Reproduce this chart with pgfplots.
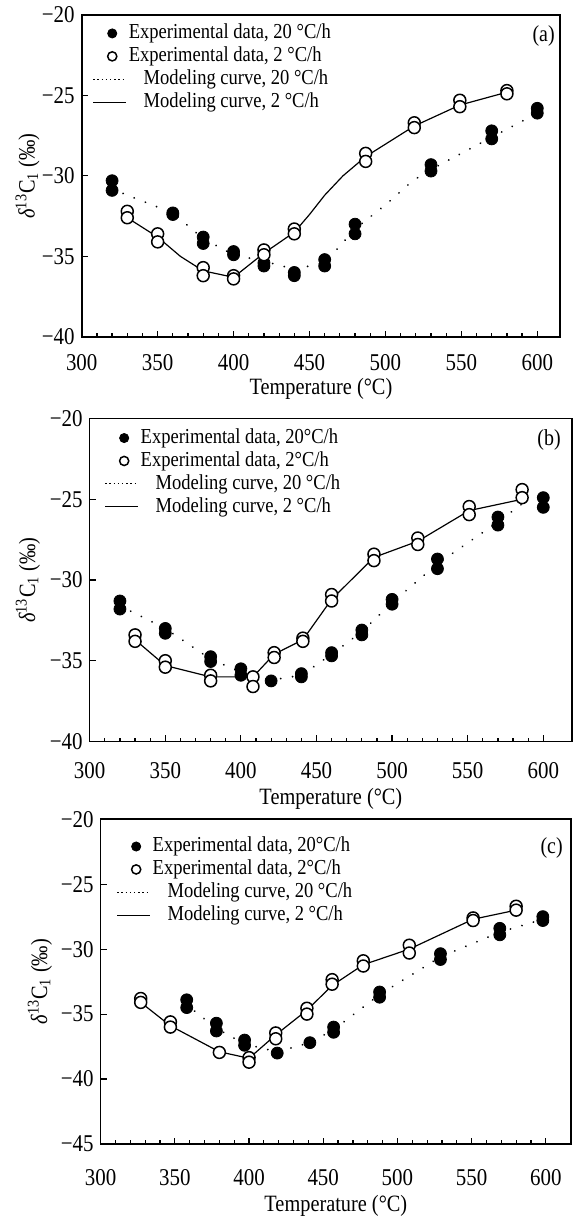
\documentclass[border=0pt]{standalone}
\usepackage{pgfplots}
\pgfplotsset{compat=1.18}
\usepackage{fontspec}
\setmainfont{Liberation Serif}
\newcommand{\st}[1]{\scalebox{1}[1.15]{#1}}
\begin{document}
\begin{tikzpicture}
\pgfplotsset{
 panel/.style={
  scale only axis, xmin=300, ymax=-20,
  axis line style={line width=0.8pt},
  tick align=inside, tick pos=left,
  xtick={300,350,...,600}, minor x tick num=4,
  major tick length=3pt, minor tick length=1.8pt,
  every tick/.append style={line width=0.6pt, black},
  /pgf/number format/assume math mode=true,
  xticklabel={\st{\pgfmathprintnumber{\tick}}},
  xticklabel style={font=\fontsize{10.5}{12}\selectfont},
  yticklabel style={font=\fontsize{10.5}{12}\selectfont},
  xlabel={\st{Temperature (°C)}},
  ylabel={\st{{\itshape δ}\textsuperscript{13}C\textsubscript{1} (‰)}},
  label style={font=\fontsize{10.2}{12}\selectfont},
  legend style={draw=none, fill=none, inner sep=0pt, outer sep=0pt, anchor=north west,
    font=\fontsize{9.3}{11}\selectfont, row sep=2pt, column sep=1pt,
    nodes={inner sep=0pt, text height=7.5pt, text depth=2pt}},
  legend cell align=left,
 },
 expimg/.style={legend image code/.code={\draw[##1, mark size=2.3pt] plot coordinates {(9.5pt,0pt)}; \path (0pt,0pt) (16.5pt,0pt);}},
 lineimg/.style={legend image code/.code={\draw[##1] (0pt,0pt) -- (16.5pt,0pt);}},
 filledpts/.style={only marks, mark=*, mark size=3pt, mark options={fill=black, draw=black}, expimg},
 openpts/.style={only marks, mark=*, mark size=3pt, mark options={fill=white, draw=black, line width=0.75pt}, expimg},
 dotcurve/.style={black, line width=1pt, dash pattern=on 0.01pt off 6pt, line cap=round},
 solidcurve/.style={black, line width=0.6pt},
 dotleg/.style={black, line width=0.6pt, dash pattern=on 0.7pt off 1.4pt, lineimg},
 solleg/.style={black, line width=0.6pt, lineimg},
}
\path (0pt,0pt) rectangle (287.5pt,-611.5pt);

% ---------------- (a)
\begin{axis}[panel, at={(41pt,-7.5pt)}, anchor=north west, width=240pt, height=161.5pt,
  xmax=615, ymin=-40, ytick={-40,-35,-30,-25,-20}, yticklabels={\st{−40},\st{−35},\st{−30},\st{−25},\st{−20}},
  legend style={at={(axis description cs:0.023,0.972)}},
  xticklabel style={yshift=-5.5pt},
  xlabel style={at={(axis description cs:0.5,-0.161)}, anchor=center},
  ylabel style={at={(axis description cs:-0.113,0.5)}, anchor=center}]
\addplot[dotcurve, forget plot] coordinates {(320,-30.8) (330,-31.2) (360,-32.3) (380,-33.9) (400,-34.9) (420,-35.3) (440,-35.8) (460,-35.4) (480,-33.3) (500,-31.8) (518,-30.3) (530,-29.6) (570,-27.6) (600,-26.1)};
\addplot[solidcurve, forget plot] coordinates {(330,-32.6) (350,-33.8) (365,-35.0) (380,-35.9) (400,-36.3) (420,-34.8) (440,-33.5) (450,-32.4) (460,-31.2) (472,-30.0) (487,-28.8) (519,-26.9) (549,-25.6) (580,-24.8)};
\addplot[filledpts] coordinates {(320,-30.3) (320,-30.9) (360,-32.3) (360,-32.4) (380,-33.8) (380,-34.2) (400,-34.7) (400,-34.9) (420,-35.4) (420,-35.6) (440,-36.0) (440,-36.2) (460,-35.2) (460,-35.6) (480,-33.0) (480,-33.6) (530,-29.3) (530,-29.7) (570,-27.2) (570,-27.7) (600,-25.8) (600,-26.1)};
\addlegendentry{\st{Experimental data, 20 °C/h}}
\addplot[openpts] coordinates {(330,-32.2) (330,-32.6) (350,-33.6) (350,-34.1) (380,-35.7) (380,-36.2) (400,-36.2) (400,-36.4) (420,-34.6) (420,-34.9) (440,-33.3) (440,-33.6) (487,-28.6) (487,-29.1) (519,-26.7) (519,-27.0) (549,-25.3) (549,-25.7) (580,-24.7) (580,-24.9)};
\addlegendentry{\st{Experimental data, 2 °C/h}}
\addlegendimage{dotleg}
\addlegendentry{\hspace*{7.5pt}\st{Modeling curve, 20 °C/h}}
\addlegendimage{solleg}
\addlegendentry{\hspace*{7.5pt}\st{Modeling curve, 2 °C/h}}
\node[anchor=north east, inner sep=0pt, font=\fontsize{10}{12}\selectfont] at ([xshift=-2.5pt,yshift=-5pt]rel axis cs:1,1) {\st{(a)}};
\end{axis}

% ---------------- (b)
\begin{axis}[panel, at={(45pt,-210pt)}, anchor=north west, width=242pt, height=162pt,
  xmax=619, ymin=-40, ytick={-40,-35,-30,-25,-20}, yticklabels={\st{−40},\st{−35},\st{−30},\st{−25},\st{−20}},
  legend style={at={(axis description cs:0.031,0.969)}},
  xticklabel style={yshift=-7pt},
  xlabel style={at={(axis description cs:0.5,-0.179)}, anchor=center},
  ylabel style={at={(axis description cs:-0.128,0.5)}, anchor=center}]
\addplot[dotcurve, forget plot] coordinates {(320,-31.6) (350,-33.0) (380,-34.9) (400,-35.7) (410,-36.1) (420,-36.2) (440,-35.9) (460,-34.6) (480,-33.2) (500,-31.4) (530,-29.0) (570,-26.4) (590,-25.0)};
\addplot[solidcurve, forget plot] coordinates {(330,-33.7) (350,-35.3) (380,-36.0) (408,-36.0) (422,-34.6) (441,-33.7) (460,-31.2) (488,-28.6) (517,-27.6) (551,-25.7) (586,-25.0)};
\addplot[filledpts] coordinates {(320,-31.3) (320,-31.8) (350,-33.0) (350,-33.3) (380,-34.75) (380,-35.05) (400,-35.5) (400,-35.9) (420,-36.25) (440,-35.8) (440,-36.0) (460,-34.5) (460,-34.7) (480,-33.1) (480,-33.4) (500,-31.2) (500,-31.5) (530,-28.7) (530,-29.3) (570,-26.1) (570,-26.6) (600,-24.9) (600,-25.5)};
\addlegendentry{\st{Experimental data, 20°C/h}}
\addplot[openpts] coordinates {(330,-33.4) (330,-33.8) (350,-35.0) (350,-35.4) (380,-35.9) (380,-36.25) (408,-36.0) (408,-36.6) (422,-34.5) (422,-34.8) (441,-33.6) (441,-33.8) (460,-30.9) (460,-31.3) (488,-28.4) (488,-28.8) (517,-27.4) (517,-27.8) (551,-25.45) (551,-25.95) (586,-24.4) (586,-24.9)};
\addlegendentry{\st{Experimental data, 2°C/h}}
\addlegendimage{dotleg}
\addlegendentry{\hspace*{7.5pt}\st{Modeling curve, 20 °C/h}}
\addlegendimage{solleg}
\addlegendentry{\hspace*{7.5pt}\st{Modeling curve, 2 °C/h}}
\node[anchor=north east, inner sep=0pt, font=\fontsize{10}{12}\selectfont] at ([xshift=-5.5pt,yshift=-5.5pt]rel axis cs:1,1) {\st{(b)}};
\end{axis}

% ---------------- (c)
\begin{axis}[panel, at={(50.5pt,-411pt)}, anchor=north west, width=236pt, height=163pt,
  xmax=617, ymin=-45, ytick={-45,-40,-35,-30,-25,-20}, yticklabels={\st{−45},\st{−40},\st{−35},\st{−30},\st{−25},\st{−20}},
  legend style={at={(axis description cs:0.034,0.945)}},
  xticklabel style={yshift=-9pt},
  xlabel style={at={(axis description cs:0.5,-0.19)}, anchor=center},
  ylabel style={at={(axis description cs:-0.129,0.5)}, anchor=center}]
\addplot[dotcurve, forget plot] coordinates {(357,-34.2) (378,-36.1) (397,-37.3) (419,-37.9) (441,-37.2) (457,-36.2) (488,-33.5) (529,-30.6) (569,-28.7) (598,-27.7)};
\addplot[solidcurve, forget plot] coordinates {(327,-34.1) (347,-35.9) (380,-37.9) (400,-38.4) (418,-36.6) (439,-34.7) (456,-32.8) (477,-31.2) (508,-30.0) (551,-27.7) (580,-27.0)};
\addplot[filledpts] coordinates {(358,-33.9) (358,-34.5) (378,-35.7) (378,-36.3) (397,-37.0) (397,-37.4) (419,-38.0) (441,-37.2) (457,-36.0) (457,-36.4) (488,-33.3) (488,-33.7) (529,-30.35) (529,-30.8) (569,-28.4) (569,-28.9) (598,-27.5) (598,-27.8)};
\addlegendentry{\st{Experimental data, 20°C/h}}
\addplot[openpts] coordinates {(327,-33.8) (327,-34.1) (347,-35.6) (347,-36.0) (380,-37.95) (400,-38.35) (400,-38.7) (418,-36.45) (418,-36.9) (439,-34.55) (439,-35.0) (456,-32.35) (456,-32.7) (477,-30.9) (477,-31.3) (508,-29.7) (508,-30.3) (551,-27.6) (551,-27.8) (580,-26.7) (580,-27.0)};
\addlegendentry{\st{Experimental data, 2°C/h}}
\addlegendimage{dotleg}
\addlegendentry{\hspace*{7.5pt}\st{Modeling curve, 20 °C/h}}
\addlegendimage{solleg}
\addlegendentry{\hspace*{7.5pt}\st{Modeling curve, 2 °C/h}}
\node[anchor=north east, inner sep=0pt, font=\fontsize{10}{12}\selectfont] at ([xshift=-4pt,yshift=-9pt]rel axis cs:1,1) {\st{(c)}};
\end{axis}
\end{tikzpicture}
\end{document}
